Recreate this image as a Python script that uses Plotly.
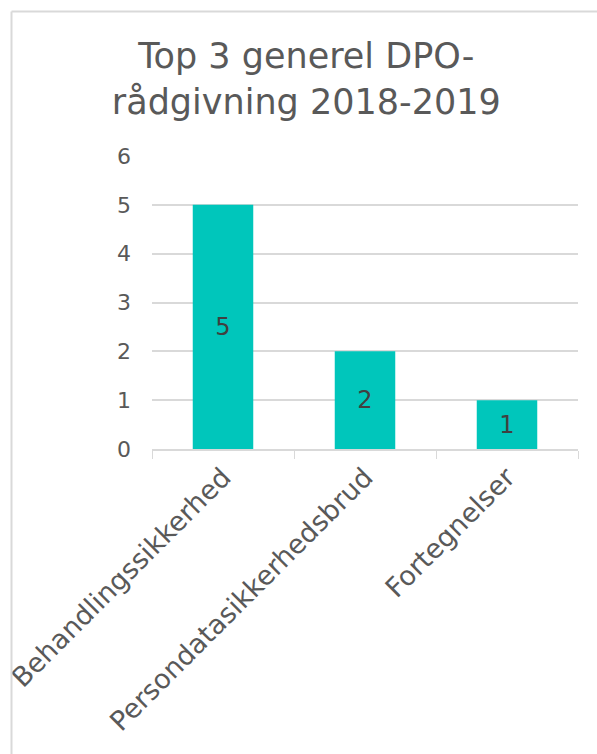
import plotly.graph_objects as go

# Top 3 general DPO advisory topics, 2018-2019
categories = ["Behandlingssikkerhed", "Persondatasikkerhedsbrud", "Fortegnelser"]
counts = [5, 2, 1]
y_ticks = [0, 1, 2, 3, 4, 5, 6]

W, H = 597, 754
ML, MR, MT, MB = 152, 19, 156, 305
PW, PH = W - ML - MR, H - MT - MB

BAR = "#00C6BB"
GRID = "#D9D9D9"
TXT = "#595959"
FONT = "DejaVu Sans"

fig = go.Figure(
    go.Bar(
        x=categories,
        y=counts,
        marker=dict(color=BAR, line=dict(width=0)),
        text=[str(v) for v in counts],
        textposition="inside",
        insidetextanchor="middle",
        textangle=0,
        textfont=dict(family=FONT, size=24, color="#404040"),
        hoverinfo="skip",
    )
)

# chart frame (left and top edges of the chart box)
px2x = lambda px: (px - ML) / PW
py2y = lambda py: (H - MB - py) / PH
frame = dict(color=GRID, width=2)
fig.add_shape(type="line", xref="paper", yref="paper",
              x0=px2x(11.5), x1=px2x(11.5), y0=py2y(11.5), y1=py2y(H + 10), line=frame)
fig.add_shape(type="line", xref="paper", yref="paper",
              x0=px2x(11.5), x1=px2x(W + 10), y0=py2y(11.5), y1=py2y(11.5), line=frame)

fig.update_layout(
    width=W,
    height=H,
    margin=dict(l=ML, r=MR, t=MT, b=MB, autoexpand=False),
    paper_bgcolor="white",
    plot_bgcolor="white",
    bargap=0.574,
    showlegend=False,
    font=dict(family=FONT, color=TXT),
    title=dict(
        text="Top 3 generel DPO-<br>rådgivning 2018-2019",
        x=0.513,
        xanchor="center",
        y=1 - 68 / H,
        yanchor="top",
        yref="container",
        font=dict(family=FONT, size=35, color=TXT),
    ),
    xaxis=dict(
        tickangle=-45,
        tickfont=dict(family=FONT, size=27, color=TXT),
        tickson="boundaries",
        ticks="outside",
        ticklen=8,
        tickcolor=GRID,
        showline=True,
        linecolor=GRID,
        linewidth=1.5,
        layer="above traces",
        showgrid=False,
        automargin=False,
    ),
    yaxis=dict(
        range=[0, 6],
        tickvals=y_ticks,
        tickfont=dict(family=FONT, size=22, color=TXT),
        showgrid=True,
        gridcolor=GRID,
        gridwidth=1.5,
        zeroline=False,
        showline=False,
        ticks="",
        ticklabelstandoff=20,
        automargin=False,
    ),
)

fig.write_html("out.html")
